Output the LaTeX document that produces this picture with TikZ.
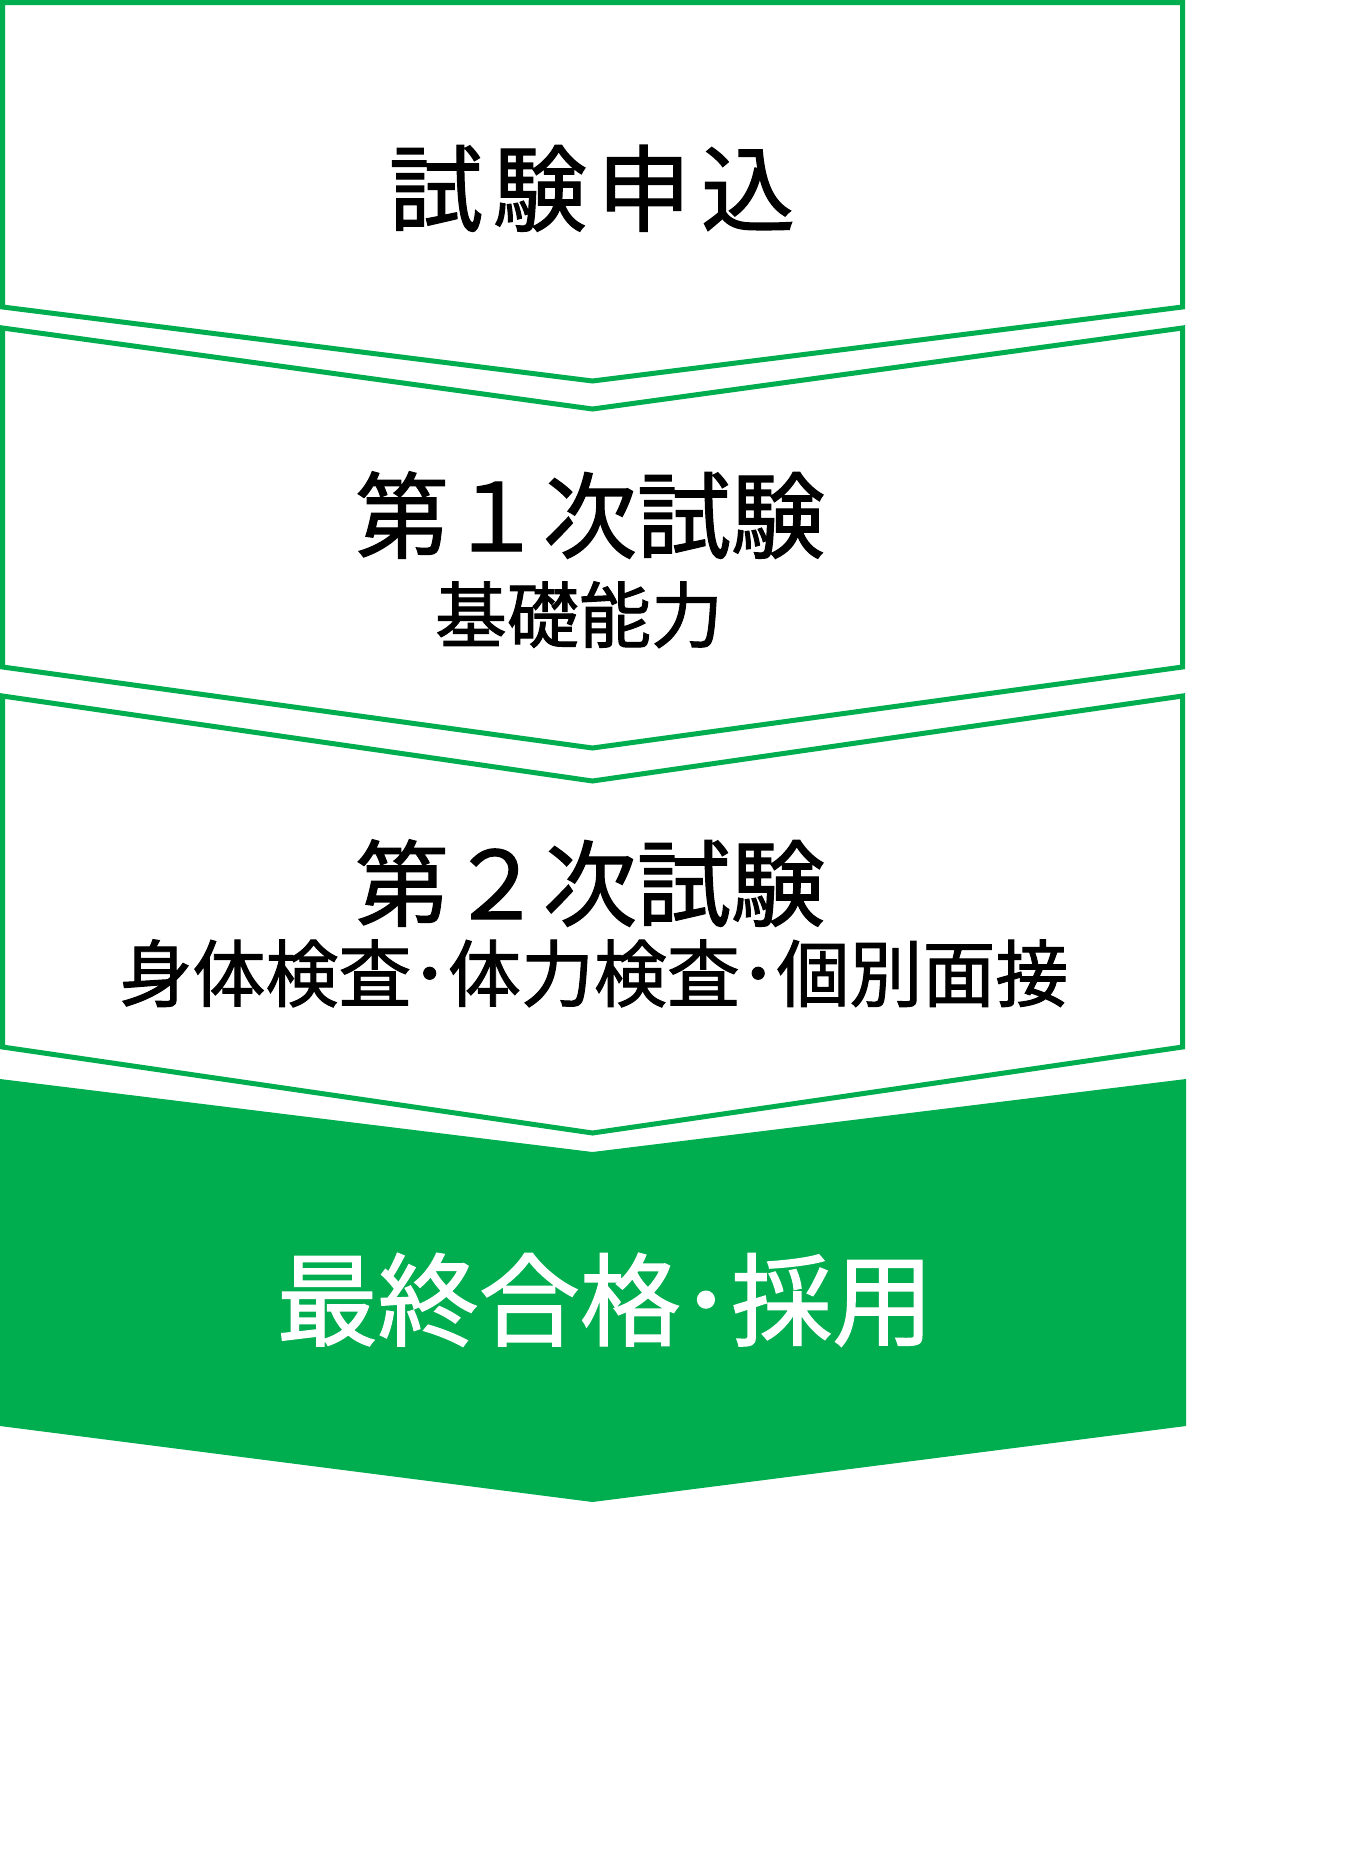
\documentclass[tikz,border=0pt]{standalone}
\usepackage{fontspec}
\newfontfamily\jp[FakeBold=1.3]{Noto Sans CJK JP}
\definecolor{brandgreen}{RGB}{0,174,80}
\begin{document}
\begin{tikzpicture}[x=1pt,y=-1pt,
  outline/.style={draw=brandgreen,line width=5pt,line join=miter,fill=white},
  solidbox/.style={fill=brandgreen},
  title/.style={font=\jp\fontsize{94}{100}\selectfont,anchor=base,inner sep=0pt,text=black},
  subtitle/.style={font=\jp\fontsize{72}{80}\selectfont,anchor=base,inner sep=0pt,text=black},
  finaltitle/.style={font=\jp\fontsize{101}{108}\selectfont,anchor=base,inner sep=0pt,text=white}]
\useasboundingbox (0,0) rectangle (1362,1874);
% box 1
\draw[outline] (2.5,2.5) -- (1182.5,2.5) -- (1182.5,307) -- (592.5,381) -- (2.5,307) -- cycle;
% box 2
\draw[outline] (2.5,328) -- (592.5,409) -- (1182.5,328) -- (1182.5,667) -- (592.5,748) -- (2.5,667) -- cycle;
% box 3
\draw[outline] (2.5,696) -- (592.5,781) -- (1182.5,696) -- (1182.5,1047) -- (592.5,1133) -- (2.5,1047) -- cycle;
% final green box
\fill[solidbox] (0,1079) -- (592.5,1152) -- (1186,1079) -- (1186,1426) -- (592.5,1502) -- (0,1426) -- cycle;
% texts
\node[title] (t1) at (592,224) {試\kern10pt 験\kern10pt 申\kern10pt 込};
\node[title] (t2) at (590,551) {第１次試験};
\node[subtitle] (s2) at (579,642) {基礎能力};
\node[title] (t3) at (590,919) {第２次試験};
\node[subtitle,font=\jp\fontsize{73}{80}\selectfont] (s3) at (594,1001) {身体検査･体力検査･個別面接};
\node[finaltitle] (t4) at (605,1338) {最終合格･採用};
\end{tikzpicture}
\end{document}
